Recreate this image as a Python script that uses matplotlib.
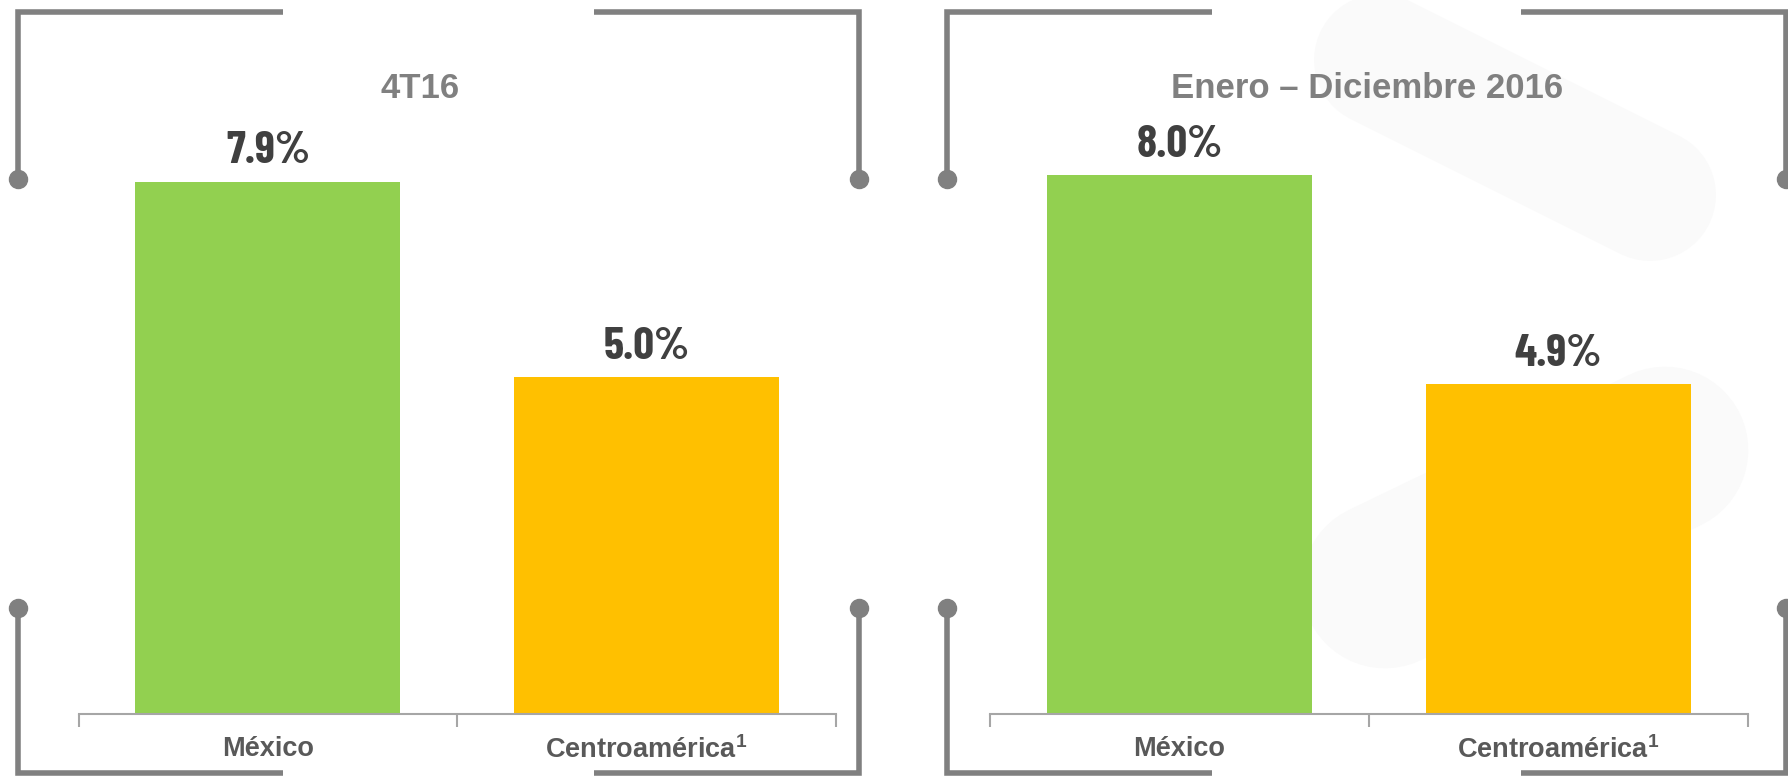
import matplotlib
matplotlib.use("Agg")
import matplotlib.pyplot as plt

plt.rcParams['font.family'] = ['Liberation Sans', 'DejaVu Sans']
plt.rcParams['mathtext.fontset'] = 'custom'
plt.rcParams['mathtext.rm'] = 'Liberation Sans'
plt.rcParams['mathtext.bf'] = 'Liberation Sans:bold'

# ---- data ----
categories = ["México", "Centroamérica$^{\\mathbf{1}}$"]
titles = ["4T16", "Enero – Diciembre 2016"]
values_4t16 = [7.9, 5.0]
values_year = [8.0, 4.9]
value_labels_4t16 = ["7.9%", "5.0%"]
value_labels_year = ["8.0%", "4.9%"]
bar_colors = ["#92D050", "#FFC000"]

W, H = 1788, 776
fig = plt.figure(figsize=(W / 100, H / 100), dpi=100)
fig.patch.set_facecolor("white")

# overlay for decorations (pixel coords)
deco = fig.add_axes([0, 0, 1, 1], zorder=0)
deco.set_xlim(0, W)
deco.set_ylim(H, 0)
deco.axis("off")

# faint watermark shapes in right panel
deco.plot([1380, 1650], [60, 195], color="#fafafa", lw=95, solid_capstyle="round", zorder=0)
deco.plot([1385, 1665], [585, 450], color="#fafafa", lw=120, solid_capstyle="round", zorder=0)

gray = "#808080"
lw = 4.0
def bracket(xs, ys, dot):
    deco.plot(xs, ys, color=gray, lw=lw, solid_capstyle="butt", solid_joinstyle="miter", zorder=1)
    deco.plot([dot[0]], [dot[1]], marker="o", ms=13, color=gray, mec=gray, zorder=1)

for (xl, xr) in [(18, 859), (947, 1786)]:
    ytop, ybot, ydt, ydb = 12, 773, 179, 608
    bracket([xl, xl, xl + 265], [ydt, ytop, ytop], (xl, ydt))
    bracket([xr - 265, xr, xr], [ytop, ytop, ydt], (xr, ydt))
    bracket([xl, xl, xl + 265], [ydb, ybot, ybot], (xl, ydb))
    bracket([xr - 265, xr, xr], [ybot, ybot, ydb], (xr, ydb))

# chart axes
base_px = 714.0
unit_px = 67.4
ymax = 10.0
ax_bottom = (H - base_px) / H
ax_height = unit_px * ymax / H

panels = [
    (78.7, 835.8, values_4t16, value_labels_4t16, titles[0], 420),
    (989.8, 1748.1, values_year, value_labels_year, titles[1], 1367),
]

for (x0, x1, vals, vlabels, title, tx) in panels:
    ax = fig.add_axes([x0 / W, ax_bottom, (x1 - x0) / W, ax_height], zorder=2)
    ax.patch.set_alpha(0)
    xs = list(range(len(categories)))
    ax.bar(xs, vals, width=0.7, color=bar_colors, zorder=2)
    ax.set_xlim(-0.5, len(categories) - 0.5)
    ax.set_ylim(0, ymax)
    for s in ["top", "right", "left"]:
        ax.spines[s].set_visible(False)
    ax.spines["bottom"].set_color("#a6a6a6")
    ax.spines["bottom"].set_linewidth(1.5)
    ax.set_yticks([])
    ax.set_xticks(xs)
    ax.set_xticklabels(categories, fontsize=19.5, fontweight="bold", color="#595959")
    ax.tick_params(axis="x", which="major", length=0, pad=16)
    ax.set_xticks([-0.5, 0.5, 1.5], minor=True)
    ax.tick_params(axis="x", which="minor", length=9, width=1.5, color="#a6a6a6", direction="out")
    for x, v, lab in zip(xs, vals, vlabels):
        ax.annotate(lab, (x, v), xytext=(0, 13), textcoords="offset points",
                    ha="center", va="baseline", fontsize=33, fontweight=700,
                    color="#404040", family=["Barlow Condensed", "DejaVu Sans"])
    fig.text(tx / W, 1 - 88 / H, title, ha="center", va="center",
             fontsize=25, fontweight="bold", color=gray)

fig.savefig("out.png", dpi=100, facecolor="white")
